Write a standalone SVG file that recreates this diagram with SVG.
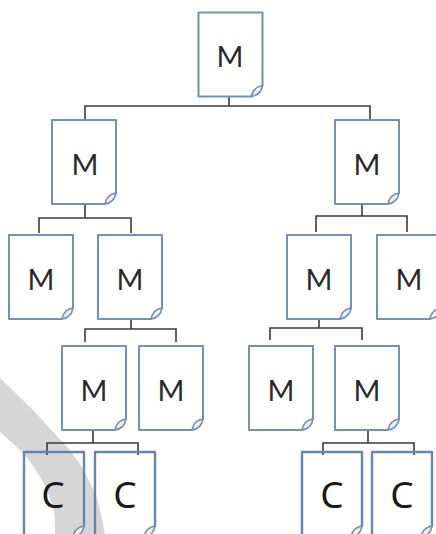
<svg xmlns="http://www.w3.org/2000/svg" width="436" height="534" viewBox="0 0 436 534">
<style>
.doc{fill:none;stroke:#7391b8;stroke-width:2;stroke-linejoin:round}
.docc{fill:none;stroke:#6487b0;stroke-width:2.4;stroke-linejoin:round}
.fold{fill:#eef2f7;stroke:#7391b8;stroke-width:1.6;stroke-linejoin:round}
.conn{fill:none;stroke:#3a3a3a;stroke-width:1.6}
.m{font:29px Lato,"Liberation Sans",Arial,sans-serif;fill:#2a2a2a;text-anchor:middle}
.c{font:37px "Noto Sans","Liberation Sans",Arial,sans-serif;fill:#1a1a1a;text-anchor:middle}
</style>
<defs>
<g id="page"><path class="doc" d="M0 0H64V73L53 84H0Z"/><path class="fold" d="M53 84C54 78 58 74 64 73C63 79 59 83 53 84Z"/></g>
<g id="pagec"><path class="docc" d="M0 0H60V74L49 85H0Z"/><path class="fold" d="M49 85C50 79 54 75 60 74C59 80 55 84 49 85Z"/></g>
</defs>
<path d="M0 378L33 410L67 447C76 458 82 466 87 477C94 490 98 500 100 510L105 534H55C55 522 55 513 52 503C48 494 46 486 40 477C34 467 28 458 20 450L0 432Z" fill="#d6d6d6"/>
<g id="connectors">
<path class="conn" d="M229 97V106M85 120V106H370V120"/>
<path class="conn" d="M85 205V218M39 233V218H131V233"/>
<path class="conn" d="M362 205V216M316 232V216H407V232"/>
<path class="conn" d="M131 320V329M85 342V329H176V342"/>
<path class="conn" d="M319 320V328M270 340V328H362V340"/>
<path class="conn" d="M93 431V443M47 455V443H138V455"/>
<path class="conn" d="M368 431V443M323 455V443H414V455"/>
</g>
<g id="root"><use href="#page" x="198.500" y="12.500"/><text class="m" x="230" y="67">M</text></g>
<g id="m1"><use href="#page" x="52" y="120"/><text class="m" x="85" y="175">M</text></g>
<g id="m2"><use href="#page" x="335" y="120"/><text class="m" x="367" y="175">M</text></g>
<g id="m3"><use href="#page" x="9" y="235"/><text class="m" x="41" y="290">M</text></g>
<g id="m4"><use href="#page" x="98" y="235"/><text class="m" x="130" y="290">M</text></g>
<g id="m5"><use href="#page" x="287" y="235"/><text class="m" x="319" y="290">M</text></g>
<g id="m6"><use href="#page" x="377" y="235"/><text class="m" x="409" y="290">M</text></g>
<g id="m7"><use href="#page" x="62" y="346"/><text class="m" x="94" y="401">M</text></g>
<g id="m8"><use href="#page" x="139" y="346"/><text class="m" x="171" y="401">M</text></g>
<g id="m9"><use href="#page" x="249" y="346"/><text class="m" x="281" y="401">M</text></g>
<g id="m10"><use href="#page" x="335" y="346"/><text class="m" x="367" y="401">M</text></g>
<g id="c1"><use href="#pagec" x="24" y="452"/><text class="c" x="53" y="508">C</text></g>
<g id="c2"><use href="#pagec" x="95" y="452"/><text class="c" x="125" y="508">C</text></g>
<g id="c3"><use href="#pagec" x="302" y="452"/><text class="c" x="332" y="508">C</text></g>
<g id="c4"><use href="#pagec" x="372" y="452"/><text class="c" x="402" y="508">C</text></g>
</svg>
